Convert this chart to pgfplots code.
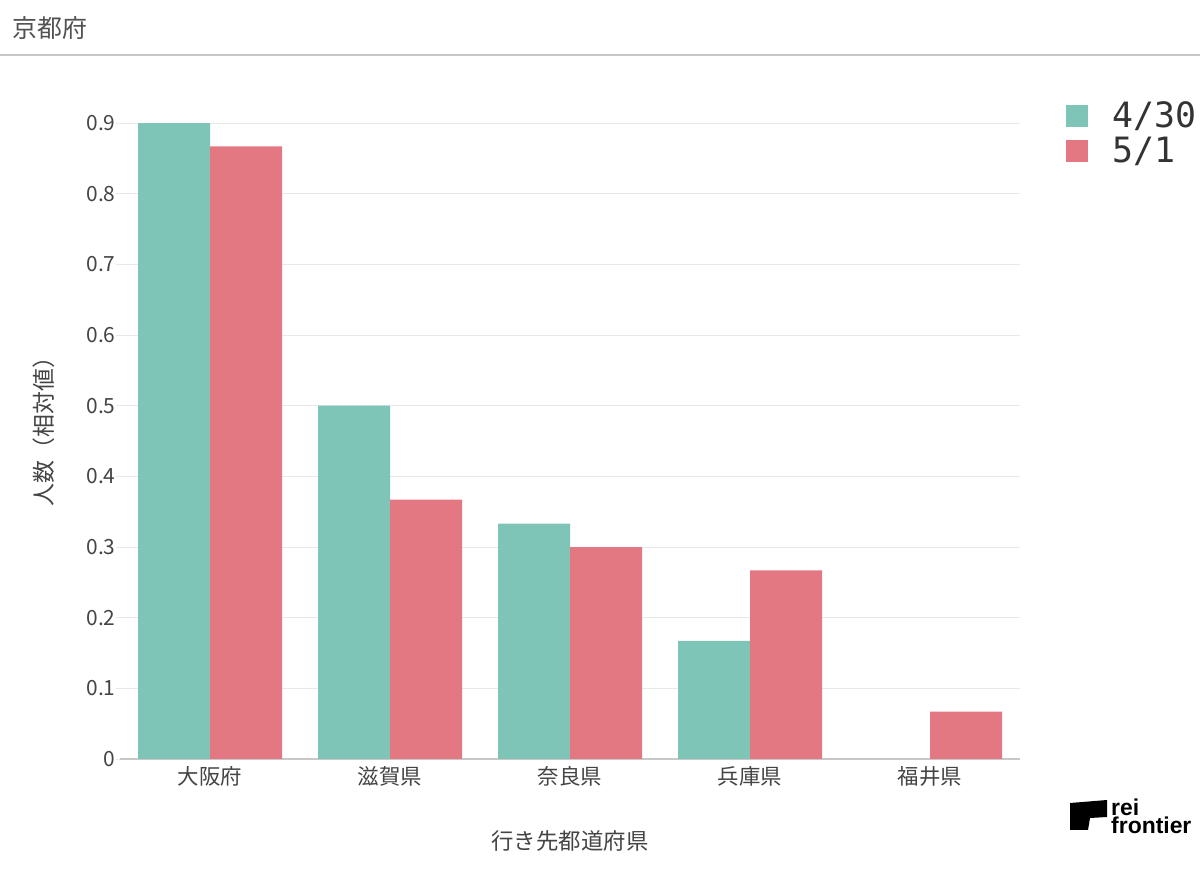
\documentclass[border=0pt]{standalone}
\usepackage{fontspec}
\setmainfont{Noto Sans CJK JP}
\newfontfamily\monofont{DejaVu Sans Mono}
\newfontfamily\logofont{Liberation Sans}
\usepackage{pgfplots}
\pgfplotsset{compat=1.18}
\definecolor{tealA}{HTML}{7EC5B8}
\definecolor{pinkA}{HTML}{E47882}
\definecolor{gridc}{HTML}{E8E8E8}
\definecolor{axisc}{HTML}{C8C8C8}
\definecolor{txt}{HTML}{444444}
\begin{document}
\begin{tikzpicture}
\useasboundingbox (0bp,0bp) rectangle (1200bp,878bp);
\fill[white] (0bp,0bp) rectangle (1200bp,878bp);
\node[anchor=west, text=black!68, font=\fontsize{25}{25}\selectfont, inner sep=0pt] at (12bp,850bp) {京都府};
\draw[axisc, line width=2bp] (0bp,823bp) -- (1200bp,823bp);
\begin{axis}[
  at={(120bp,119bp)}, anchor=south west,
  scale only axis, width=900bp, height=636bp,
  xmin=-0.5, xmax=4.5, ymin=0, ymax=0.9,
  ybar=0pt, bar width=72bp,
  xtick={0,1,2,3,4},
  xticklabels={大阪府,滋賀県,奈良県,兵庫県,福井県},
  ytick={0,0.1,0.2,0.3,0.4,0.5,0.6,0.7,0.8,0.9},
  yticklabel style={/pgf/number format/fixed, /pgf/number format/precision=1, font=\fontsize{21}{21}\selectfont, text=txt, xshift=3bp},
  xticklabel style={font=\fontsize{21.5}{21.5}\selectfont, text=txt, yshift=0bp},
  /pgf/number format/assume math mode=true,
  axis x line*=bottom, axis y line*=left,
  x axis line style={axisc, line width=1.3bp, -},
  y axis line style={draw=none},
  xtick style={draw=none},
  ytick style={gridc, line width=1bp},
  tick align=outside, major tick length=4bp,
  ymajorgrids, grid style={gridc, line width=1bp},
  xlabel={行き先都道府県},
  ylabel={人数（相対値）},
  every axis x label/.style={at={(axis description cs:0.5,-0.129)}, anchor=center, font=\fontsize{22.5}{22.5}\selectfont, text=txt},
  every axis y label/.style={at={(axis description cs:-0.0844,0.5236)}, anchor=center, rotate=90, font=\fontsize{23}{23}\selectfont, text=txt},
  legend style={at={(axis description cs:1.0478,1.0356)}, anchor=north west, draw=none, fill=none,
    font=\monofont\fontsize{35}{35}\selectfont, text=black!80,
    nodes={inner sep=0pt, text height=25bp, text depth=2bp}, row sep=8bp,
    /tikz/every odd column/.style={column sep=24bp}},
  legend cell align=left,
]
\addplot[fill=tealA, draw=none, legend image code/.code={\fill[tealA] (0,-11bp) rectangle (22bp,11bp);}]
  coordinates {(0,0.9) (1,0.5) (2,0.333) (3,0.167) (4,0)};
\addplot[fill=pinkA, draw=none, legend image code/.code={\fill[pinkA] (0,-11bp) rectangle (22bp,11bp);}]
  coordinates {(0,0.867) (1,0.367) (2,0.3) (3,0.267) (4,0.067)};
\legend{4/30, 5/1}
\end{axis}
% logo
\fill[black] (1070bp,75bp) -- (1107bp,78bp) -- (1107bp,61bp) -- (1090bp,60bp) -- (1088bp,48bp) -- (1070bp,48bp) -- cycle;
\node[anchor=south west, inner sep=0pt, align=left, font=\logofont\bfseries\fontsize{23}{18}\selectfont] at (1111bp,44bp) {rei\\frontier};
\end{tikzpicture}
\end{document}
